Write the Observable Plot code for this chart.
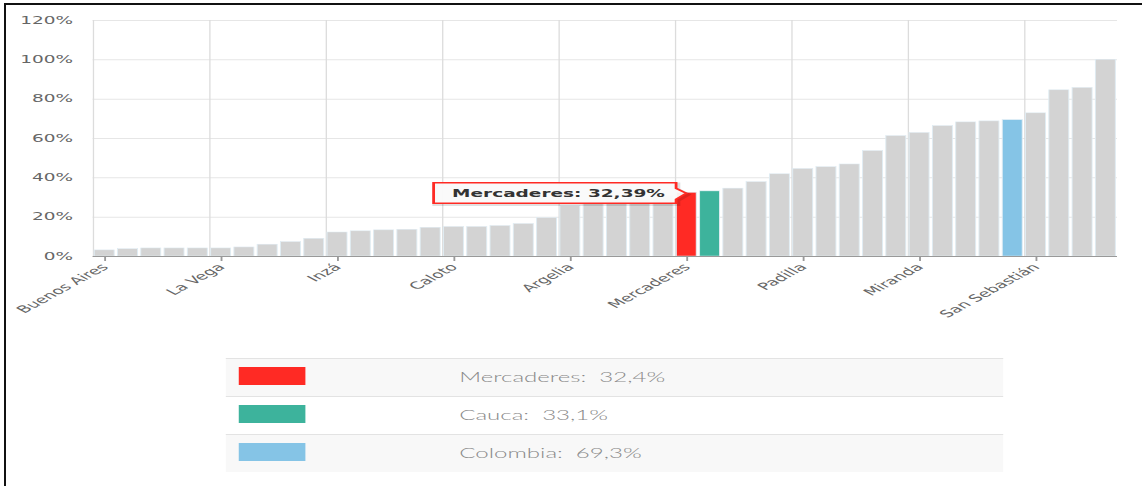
<!DOCTYPE html>
<html>
<head>
<meta charset="utf-8">
<script src="https://cdn.jsdelivr.net/npm/d3@7"></script>
<script src="https://cdn.jsdelivr.net/npm/@observablehq/plot@0.6"></script>
<style>
  html, body { margin: 0; padding: 0; background: #fff; overflow: hidden; }
  #page { position: relative; width: 1142px; height: 486px; overflow: hidden; }
  #frameTop { position: absolute; left: 4px; top: 3px; width: 1138px; height: 2px; background: #111; }
  #frameLeft { position: absolute; left: 4px; top: 3px; width: 2px; height: 483px; background: #111; }
  #stage { position: absolute; left: 0; top: 0; width: 617px; height: 486px; transform-origin: 0 0; }
  #legend { position: absolute; left: 122.1px; top: 358px; width: 419.8px; font-family: Lato, "Open Sans", sans-serif; font-weight: 300; font-size: 13px; color: #8a8a8a; }
  .row { position: relative; height: 37px; border-top: 1px solid #e3e3e3; }
  .sw { position: absolute; left: 6.5px; top: 8px; width: 36px; height: 18px; }
  .lt { position: absolute; left: 126px; top: 0; line-height: 37px; white-space: pre; }
</style>
</head>
<body>
<div id="page">
  <div id="stage"><div id="chart"></div><div id="legend"></div></div>
  <div id="frameTop"></div>
  <div id="frameLeft"></div>
</div>
<script>
// ---- data ----
const names = [
  "Buenos Aires","López de Micay","Timbiquí","Guapí","Piamonte",
  "La Vega","Santa Rosa","Almaguer","Sucre","Jambaló",
  "Inzá","Toribío","Páez","Totoró","Silvia",
  "Caloto","Caldono","Morales","Cajibío","Sotará",
  "Argelia","Balboa","El Tambo","Bolívar","Florencia",
  "Mercaderes","Cauca","Rosas","La Sierra","Suárez",
  "Padilla","Patía","Puracé","Timbío","Piendamó",
  "Miranda","Guachené","Corinto","Santander de Quilichao","Colombia",
  "San Sebastián","Villa Rica","Puerto Tejada","Popayán"
];
const values = [
  3.1, 3.7, 4.1, 4.1, 4.1,
  4.1, 4.6, 6.0, 7.3, 9.0,
  12.2, 12.8, 13.3, 13.6, 14.6,
  15.0, 15.0, 15.5, 16.5, 19.5,
  25.6, 27.3, 28.2, 29.3, 30.8,
  32.39, 33.1, 34.5, 37.8, 41.8,
  44.5, 45.4, 46.8, 53.6, 61.2,
  62.8, 66.3, 68.2, 68.7, 69.3,
  72.8, 84.5, 85.7, 100
];
const yTicks = [0, 20, 40, 60, 80, 100, 120];
const highlightNames = ["Mercaderes", "Cauca", "Colombia"];
const highlightColors = ["#ff2a24", "#3db39c", "#85c4e6"];
const legendLabels = ["Mercaderes:  32,4%", "Cauca:  33,1%", "Colombia:  69,3%"];
const tooltipName = "Mercaderes";
const tooltipText = "Mercaderes: 32,39%";
const barGray = "#d3d3d3";

// ---- build ----
const W0 = 617, SX = 1142 / W0;
document.getElementById("stage").style.transform = `scaleX(${SX})`;

const data = names.map((n, i) => ({i, name: n, v: values[i]}));
const colorOf = n => { const k = highlightNames.indexOf(n); return k < 0 ? barGray : highlightColors[k]; };
const labelIdx = d3.range(0, names.length, 5);

const chart = Plot.plot({
  width: W0,
  height: 340,
  marginLeft: 50,
  marginRight: 13.5,
  marginTop: 20,
  marginBottom: 84,
  style: {fontFamily: "'DejaVu Sans', Verdana, sans-serif", fontSize: "10px", background: "transparent"},
  x: {domain: [0, names.length], axis: null},
  y: {domain: [0, 120], axis: null},
  marks: [
    Plot.ruleY(yTicks.filter(t => t > 0), {stroke: "#e6e6e6", strokeWidth: 1}),
    Plot.ruleX(labelIdx, {stroke: "#dcdcdc", strokeWidth: 0.7}),
    Plot.rectY(data, {x1: "i", x2: d => d.i + 1, y: "v", fill: d => colorOf(d.name), stroke: "#dfecf3", strokeWidth: 0.5, insetLeft: 0.9, insetRight: 0.9}),
    Plot.ruleY([0], {stroke: "#999", strokeWidth: 1}),
    Plot.axisY({ticks: yTicks, tickFormat: d => d + "%", tickSize: 0, tickPadding: 11, fill: "#666", fontSize: 10, label: null}),
    Plot.axisX(labelIdx.map(i => i + 0.5), {tickFormat: d => names[Math.floor(d)], tickRotate: -45, tickSize: 5, tickPadding: 4, stroke: "#999", fill: "#666", fontSize: 10, label: null})
  ]
});
document.getElementById("chart").appendChild(chart);

// tooltip drawn at the scaled position of the highlighted bar
const xs = chart.scale("x"), ys = chart.scale("y");
const ti = names.indexOf(tooltipName);
const tx = xs.apply(ti + 0.5), ty = ys.apply(values[ti]);
const bR = tx - 5.5, bL = bR - 131, bT = ty - 9.5, bB = ty + 11;
const pathD = `M${bL},${bT} H${bR} V${ty - 4} L${tx},${ty + 1} L${bR},${ty + 7} V${bB} H${bL} Z`;
const svg = d3.select(chart);
const g = svg.append("g");
g.append("path").attr("d", pathD).attr("transform", "translate(0.8,1.2)")
  .attr("fill", "none").attr("stroke", "rgba(0,0,0,0.12)").attr("stroke-width", 3);
g.append("path").attr("d", pathD).attr("fill", "rgba(250,250,250,0.95)")
  .attr("stroke", "#ff2a24").attr("stroke-width", 1.5);
g.append("text").attr("x", bL + 10).attr("y", (bT + bB) / 2).attr("dy", "0.35em")
  .attr("text-anchor", "start")
  .attr("font-family", "'DejaVu Sans', Verdana, sans-serif").attr("font-size", 10)
  .attr("font-weight", "bold").attr("fill", "#333").text(tooltipText);

// legend table
const legend = d3.select("#legend");
highlightNames.forEach((n, k) => {
  const row = legend.append("div").attr("class", "row").style("background", k % 2 === 0 ? "#f8f8f8" : "#fff");
  row.append("div").attr("class", "sw").style("background", highlightColors[k]);
  row.append("div").attr("class", "lt").text(legendLabels[k]);
});
</script>
</body>
</html>
